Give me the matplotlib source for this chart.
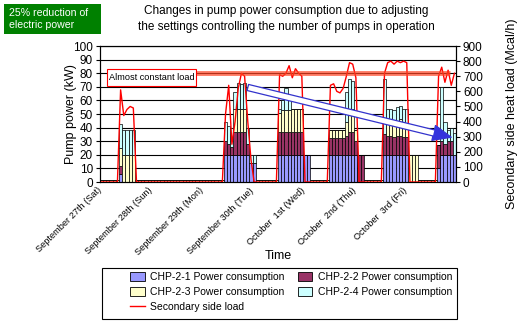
import numpy as np
import matplotlib.pyplot as plt
from matplotlib.patches import Patch, Rectangle
from matplotlib.lines import Line2D

plt.rcParams['font.family'] = ['Liberation Sans', 'DejaVu Sans']

# x axis: one week, 1.5 hour slots (16 per day)
day_labels = ['September 27th (Sat)', 'September 28th (Sun)', 'September 29th (Mon)',
              'September 30th (Tue)', 'October  1st (Wed)', 'October  2nd (Thu)',
              'October  3rd (Fri)']
day_hours = [0, 24, 48, 72, 96, 120, 144]
slot_hours = np.arange(0, 168, 1.5)

# pump power (kW), one row per day
chp1 = [0, 0, 0, 0, 0, 0, 6, 0, 0, 0, 0, 0, 0, 0, 0, 0,
        0, 0, 0, 0, 0, 0, 0, 0, 0, 0, 0, 0, 0, 0, 0, 0,
        0, 0, 0, 0, 0, 0, 0, 20, 20, 20, 20, 20, 20, 20, 20, 14,
        14, 0, 0, 0, 0, 0, 0, 0, 20, 20, 20, 20, 20, 20, 20, 20,
        20, 20, 0, 0, 0, 0, 0, 0, 20, 20, 20, 20, 20, 20, 20, 20,
        20, 0, 0, 0, 0, 0, 0, 0, 0, 20, 20, 20, 20, 20, 20, 20,
        20, 0, 0, 0, 0, 0, 0, 0, 0, 0, 10, 20, 20, 20, 20, 20]
chp2 = [0, 0, 0, 0, 0, 0, 6, 0, 0, 0, 0, 0, 0, 0, 0, 0,
        0, 0, 0, 0, 0, 0, 0, 0, 0, 0, 0, 0, 0, 0, 0, 0,
        0, 0, 0, 0, 0, 0, 0, 10, 8, 6, 17, 17, 17, 17, 8, 0,
        0, 0, 0, 0, 0, 0, 0, 0, 17, 17, 17, 17, 17, 17, 17, 17,
        0, 0, 0, 0, 0, 0, 0, 0, 12, 12, 12, 12, 12, 14, 17, 17,
        10, 20, 20, 0, 0, 0, 0, 0, 0, 15, 14, 14, 13, 14, 14, 13,
        13, 0, 0, 0, 0, 0, 0, 0, 0, 0, 17, 10, 8, 10, 10, 0]
chp3 = [1.5, 1.5, 1.5, 1.5, 1.5, 1.5, 13, 20, 20, 20, 20, 1.5, 1.5, 1.5, 1.5, 1.5,
        1.5, 1.5, 1.5, 1.5, 1.5, 1.5, 1.5, 1.5, 1.5, 1.5, 1.5, 1.5, 1.5, 1.5, 1.5, 1.5,
        1.5, 1.5, 1.5, 1.5, 1.5, 1.5, 1.5, 0, 0, 0, 17, 17, 17, 17, 0, 0,
        0, 1.5, 1.5, 1.5, 1.5, 1.5, 1.5, 1.5, 14, 16, 16, 16, 17, 17, 17, 17,
        0, 0, 1.5, 1.5, 1.5, 1.5, 1.5, 1.5, 6, 6, 6, 6, 6, 10, 17, 17,
        8, 0, 0, 1.5, 1.5, 1.5, 1.5, 1.5, 1.5, 0, 10, 11, 12, 10, 12, 11,
        10, 20, 20, 20, 1.5, 1.5, 1.5, 1.5, 1.5, 1.5, 0, 0, 0, 0, 0, 0]
chp4 = [0, 0, 0, 0, 0, 0, 18, 18, 18, 18, 18, 0, 0, 0, 0, 0,
        0, 0, 0, 0, 0, 0, 0, 0, 0, 0, 0, 0, 0, 0, 0, 0,
        0, 0, 0, 0, 0, 0, 0, 14, 13, 14, 12, 19, 18, 19, 12, 6,
        6, 0, 0, 0, 0, 0, 0, 0, 3, 7, 16, 7, 0, 0, 0, 0,
        0, 0, 0, 0, 0, 0, 0, 0, 0, 0, 0, 0, 0, 22, 22, 20,
        0, 0, 0, 0, 0, 0, 0, 0, 0, 41, 10, 9, 8, 11, 10, 10,
        11, 0, 0, 0, 0, 0, 0, 0, 0, 0, 0, 40, 16, 8, 10, 16]

# secondary side heat load (Mcal/h)
sec_load = [0, 0, 0, 0, 0, 0, 610, 440, 480, 500, 490, 0, 0, 0, 0, 0,
            0, 0, 0, 0, 0, 0, 0, 0, 0, 0, 0, 0, 0, 0, 0, 0,
            0, 0, 0, 0, 0, 0, 0, 450, 640, 250, 400, 620, 720, 700, 400, 150,
            0, 0, 0, 0, 0, 0, 0, 0, 710, 700, 720, 770, 690, 750, 720, 700,
            0, 0, 0, 0, 0, 0, 0, 0, 640, 650, 600, 590, 620, 700, 790, 780,
            690, 0, 0, 0, 0, 0, 0, 0, 0, 720, 790, 800, 780, 800, 790, 800,
            790, 0, 0, 0, 0, 0, 0, 0, 0, 0, 700, 760, 660, 740, 640, 720]

const_load = 720
const_span = (45.3, 165)
trend_start = (68.5, 630)
trend_end = (167, 292)

colors = ['#9999ff', '#993366', '#ffffcc', '#ccffff']
names = ['CHP-2-1 Power consumption', 'CHP-2-2 Power consumption',
         'CHP-2-3 Power consumption', 'CHP-2-4 Power consumption']

fig = plt.figure(figsize=(5.26, 3.23), dpi=100)
ax = fig.add_axes([0.190, 0.4365, 0.677, 0.421])

bottom = np.zeros(len(slot_hours))
for vals, c in zip([chp1, chp2, chp3, chp4], colors):
    ax.bar(slot_hours, vals, width=1.5, align='edge', bottom=bottom,
           color=c, edgecolor='black', linewidth=0.5, zorder=2)
    bottom = bottom + np.array(vals)

ax.set_xlim(0, 168)
ax.set_ylim(0, 100)
ax.set_yticks(range(0, 101, 10))
ax.yaxis.grid(True, color='black', linewidth=0.8)
ax.set_axisbelow(True)
ax.tick_params(axis='y', labelsize=8.5, length=3, pad=2)
ax.set_xticks(day_hours)
ax.set_xticklabels(day_labels, rotation=45, ha='right', va='center',
                   rotation_mode='anchor', fontsize=6.6)
ax.tick_params(axis='x', length=0, pad=5)
ax.set_xticks([0, 48, 96, 144], minor=True)
ax.tick_params(axis='x', which='minor', length=3)
ax.set_ylabel('Pump power (kW)', fontsize=9)
ax.yaxis.set_label_coords(-0.065, 0.5)
ax.set_xlabel('Time', fontsize=9)
ax.xaxis.set_label_coords(0.5, -0.5)

ax2 = ax.twinx()
ax2.plot(slot_hours + 0.75, sec_load, color='red', linewidth=1, zorder=3)
ax2.set_ylim(0, 900)
ax2.set_yticks(range(0, 901, 100))
ax2.tick_params(axis='y', labelsize=8.5, length=3, pad=2)
ax2.set_ylabel('Secondary side heat load (Mcal/h)', fontsize=9)
ax2.yaxis.set_label_coords(1.14, 0.5)

# almost constant load
ax2.hlines(const_load, const_span[0], const_span[1], color='#ff4422',
           linewidth=3.5, alpha=0.7, zorder=4)
ax2.add_patch(Rectangle((3.3, 635), 42, 112, facecolor='white',
                        edgecolor='red', linewidth=0.8, zorder=5))
ax2.text(24.3, 691, 'Almost constant load', fontsize=6.6, ha='center',
         va='center', zorder=6)

# downward trend arrow
ax2.annotate('', xy=trend_end, xytext=trend_start, zorder=6,
             arrowprops=dict(arrowstyle='simple,head_length=1.3,head_width=1.1,tail_width=0.45',
                             fc='white', ec='#3333cc', lw=0.9, mutation_scale=10))
ax2.annotate('', xy=trend_end, xytext=trend_start, zorder=7,
             arrowprops=dict(arrowstyle='-|>,head_length=1.3,head_width=0.55',
                             fc='#3333dd', ec='#3333dd', lw=0, mutation_scale=10))

for a in (ax, ax2):
    for s in a.spines.values():
        s.set_linewidth(0.8)

# title and note
fig.text(0.545, 0.941, 'Changes in pump power consumption due to adjusting\n'
         'the settings controlling the number of pumps in operation',
         ha='center', va='center', fontsize=8.5, linespacing=1.35)
fig.patches.append(Rectangle((4 / 526, 289 / 323), 97 / 526, 30 / 323,
                             transform=fig.transFigure, facecolor='#008000',
                             edgecolor='none'))
fig.text(9 / 526, 304 / 323, '25% reduction of\nelectric power', color='white',
         ha='left', va='center', fontsize=7.6, linespacing=1.3)

# legend
handles = [Patch(facecolor=c, edgecolor='black', linewidth=0.6) for c in colors]
line_h = Line2D([], [], color='red', linewidth=1)
leg = fig.legend([handles[0], handles[2], line_h, handles[1], handles[3]],
                 [names[0], names[2], 'Secondary side load', names[1], names[3]],
                 ncol=2, loc='upper left', bbox_to_anchor=(130 / 526, 51 / 323),
                 frameon=False, fontsize=7.5, handlelength=1.4, handleheight=0.9,
                 handletextpad=0.5, columnspacing=1.3, labelspacing=0.5,
                 borderpad=0, borderaxespad=0)
fig.patches.append(Rectangle((102 / 526, 4 / 323), 355 / 526, 51 / 323,
                             transform=fig.transFigure, fill=False,
                             edgecolor='black', linewidth=0.8))

plt.savefig('out.png', dpi=100)
